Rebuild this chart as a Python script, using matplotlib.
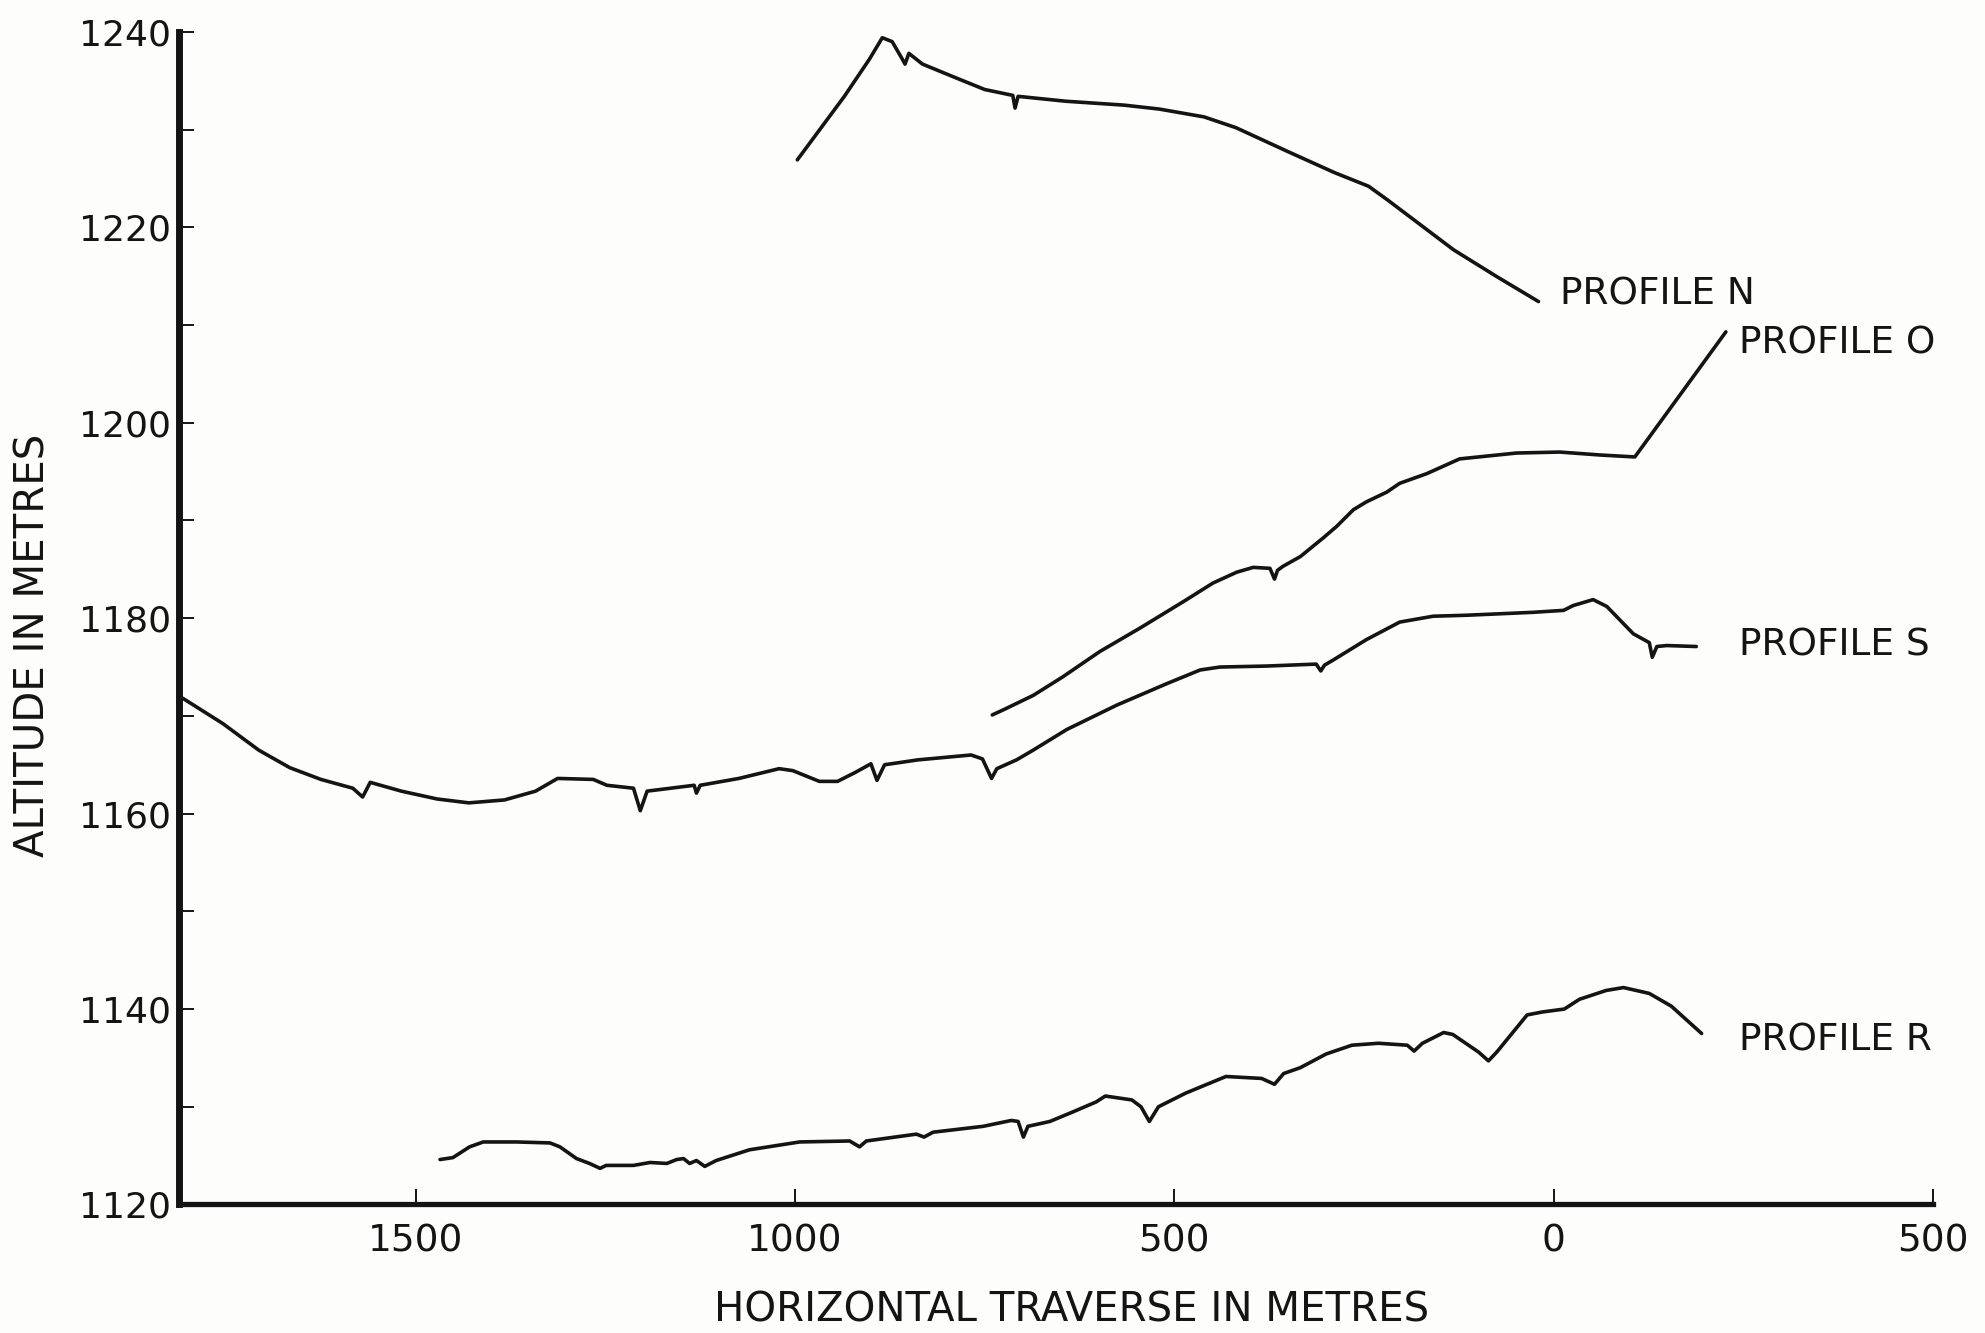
import matplotlib.pyplot as plt

# distance along traverse (m, positive to the left of 0) and altitude (m)
n_dist = [997, 935, 902, 885, 872, 860, 855, 850, 832, 785, 750, 713, 710, 706,
          643, 566, 520, 461, 419, 349, 289, 244, 219, 132, 76, 20]
n_alt = [1226.9, 1233.4, 1237.2, 1239.4, 1239.0, 1237.4, 1236.7, 1237.8, 1236.7,
         1235.2, 1234.1, 1233.5, 1232.2, 1233.4, 1232.9, 1232.5, 1232.1, 1231.3,
         1230.2, 1227.7, 1225.6, 1224.2, 1222.8, 1217.7, 1215.0, 1212.4]

o_dist = [740, 726, 686, 647, 598, 545, 488, 449, 418, 396, 374, 368, 364, 357,
          334, 304, 286, 264, 247, 220, 203, 167, 124, 49, -8, -61, -107, -227]
o_alt = [1170.1, 1170.6, 1172.1, 1174.0, 1176.6, 1179.0, 1181.7, 1183.6, 1184.7,
         1185.2, 1185.1, 1184.0, 1184.9, 1185.3, 1186.3, 1188.2, 1189.4, 1191.1,
         1191.9, 1192.9, 1193.8, 1194.8, 1196.3, 1196.9, 1197.0, 1196.7, 1196.5,
         1209.3]

s_dist = [1807, 1754, 1707, 1666, 1625, 1583, 1570, 1560, 1519, 1472, 1430, 1383,
          1342, 1313, 1266, 1248, 1213, 1204, 1195, 1133, 1130, 1125, 1074, 1021,
          1003, 968, 944, 921, 900, 892, 882, 838, 768, 753, 741, 734, 708, 686,
          642, 576, 510, 466, 440, 379, 313, 307, 302, 291, 247, 203, 159, 115,
          27, -13, -26, -52, -70, -105, -126, -130, -136, -149, -188]
s_alt = [1171.8, 1169.2, 1166.5, 1164.7, 1163.5, 1162.6, 1161.7, 1163.2, 1162.3,
         1161.5, 1161.1, 1161.4, 1162.3, 1163.6, 1163.5, 1162.9, 1162.6, 1160.3,
         1162.3, 1162.9, 1162.1, 1162.9, 1163.6, 1164.6, 1164.4, 1163.3, 1163.3,
         1164.2, 1165.1, 1163.4, 1165.0, 1165.5, 1166.0, 1165.6, 1163.6, 1164.6,
         1165.5, 1166.5, 1168.6, 1171.1, 1173.3, 1174.7, 1175.0, 1175.1, 1175.3,
         1174.6, 1175.2, 1175.7, 1177.8, 1179.6, 1180.2, 1180.3, 1180.6, 1180.8,
         1181.3, 1181.9, 1181.2, 1178.4, 1177.5, 1176.0, 1177.1, 1177.2, 1177.1]

r_dist = [1468, 1451, 1429, 1411, 1367, 1323, 1310, 1288, 1271, 1257, 1249, 1213,
          1191, 1169, 1156, 1147, 1139, 1130, 1119, 1104, 1060, 994, 928, 915, 906,
          840, 830, 818, 752, 715, 706, 699, 693, 664, 633, 603, 591, 556, 544,
          533, 521, 485, 432, 385, 368, 356, 334, 300, 266, 231, 193, 184, 173,
          145, 133, 99, 86, 75, 35, 15, -14, -34, -69, -92, -126, -155, -195]
r_alt = [1124.6, 1124.8, 1125.9, 1126.4, 1126.4, 1126.3, 1125.9, 1124.7, 1124.2,
         1123.7, 1124.0, 1124.0, 1124.3, 1124.2, 1124.6, 1124.7, 1124.2, 1124.5,
         1123.9, 1124.5, 1125.6, 1126.4, 1126.5, 1125.9, 1126.5, 1127.2, 1126.9,
         1127.4, 1128.0, 1128.6, 1128.5, 1126.9, 1128.0, 1128.5, 1129.5, 1130.5,
         1131.1, 1130.7, 1130.0, 1128.5, 1130.0, 1131.4, 1133.1, 1132.9, 1132.3,
         1133.4, 1134.0, 1135.4, 1136.3, 1136.5, 1136.3, 1135.7, 1136.5, 1137.6,
         1137.4, 1135.6, 1134.7, 1135.6, 1139.4, 1139.7, 1140.0, 1141.0, 1141.9,
         1142.2, 1141.6, 1140.3, 1137.5]

profile_labels = ["PROFILE N", "PROFILE O", "PROFILE S", "PROFILE R"]
label_dist = [-8, -244, -244, -244]
label_alt = [1213.1, 1208.1, 1177.2, 1136.8]

x_ticks = [1500, 1000, 500, 0, -500]
x_tick_labels = ["1500", "1000", "500", "0", "500"]
y_major = [1120, 1140, 1160, 1180, 1200, 1220, 1240]
y_minor = [1130, 1150, 1170, 1190, 1210, 1230]

INK = "#141414"
plt.rcParams["font.family"] = ["DejaVu Sans"]

fig = plt.figure(figsize=(19.85, 13.33), dpi=100, facecolor="#fdfdfb")
ax = fig.add_axes([0.0902, 0.0964, 0.8836, 0.8797])
ax.set_facecolor("#fdfdfb")

for dist, alt in ((n_dist, n_alt), (o_dist, o_alt), (s_dist, s_alt), (r_dist, r_alt)):
    ax.plot(dist, alt, color=INK, lw=2.6, solid_joinstyle="round", solid_capstyle="round")

for text, d, a in zip(profile_labels, label_dist, label_alt):
    ax.text(d, a, text, fontsize=27, color=INK, ha="left", va="center")

ax.set_xlim(1812, -500)
ax.set_ylim(1120, 1240)

for side in ("top", "right"):
    ax.spines[side].set_visible(False)
ax.spines["left"].set_linewidth(5)
ax.spines["bottom"].set_linewidth(3.8)
ax.spines["left"].set_color(INK)
ax.spines["bottom"].set_color(INK)

ax.set_xticks(x_ticks)
ax.set_xticklabels(x_tick_labels)
ax.set_yticks(y_major)
ax.set_yticks(y_minor, minor=True)
ax.tick_params(axis="x", direction="in", length=11, width=1.4, pad=14,
               labelsize=27, colors=INK)
ax.tick_params(axis="y", which="both", direction="in", length=11, width=1.4,
               pad=6, labelsize=26, colors=INK)

ax.set_xlabel("HORIZONTAL TRAVERSE IN METRES", fontsize=29, color=INK)
ax.xaxis.set_label_coords(0.509, -0.0905)
ax.xaxis.label.set_va("center")
ax.set_ylabel("ALTITUDE IN METRES", fontsize=29, color=INK)
ax.yaxis.set_label_coords(-0.083, 0.4765)
ax.yaxis.label.set_va("center")

fig.savefig("out.png", dpi=100, facecolor=fig.get_facecolor())
